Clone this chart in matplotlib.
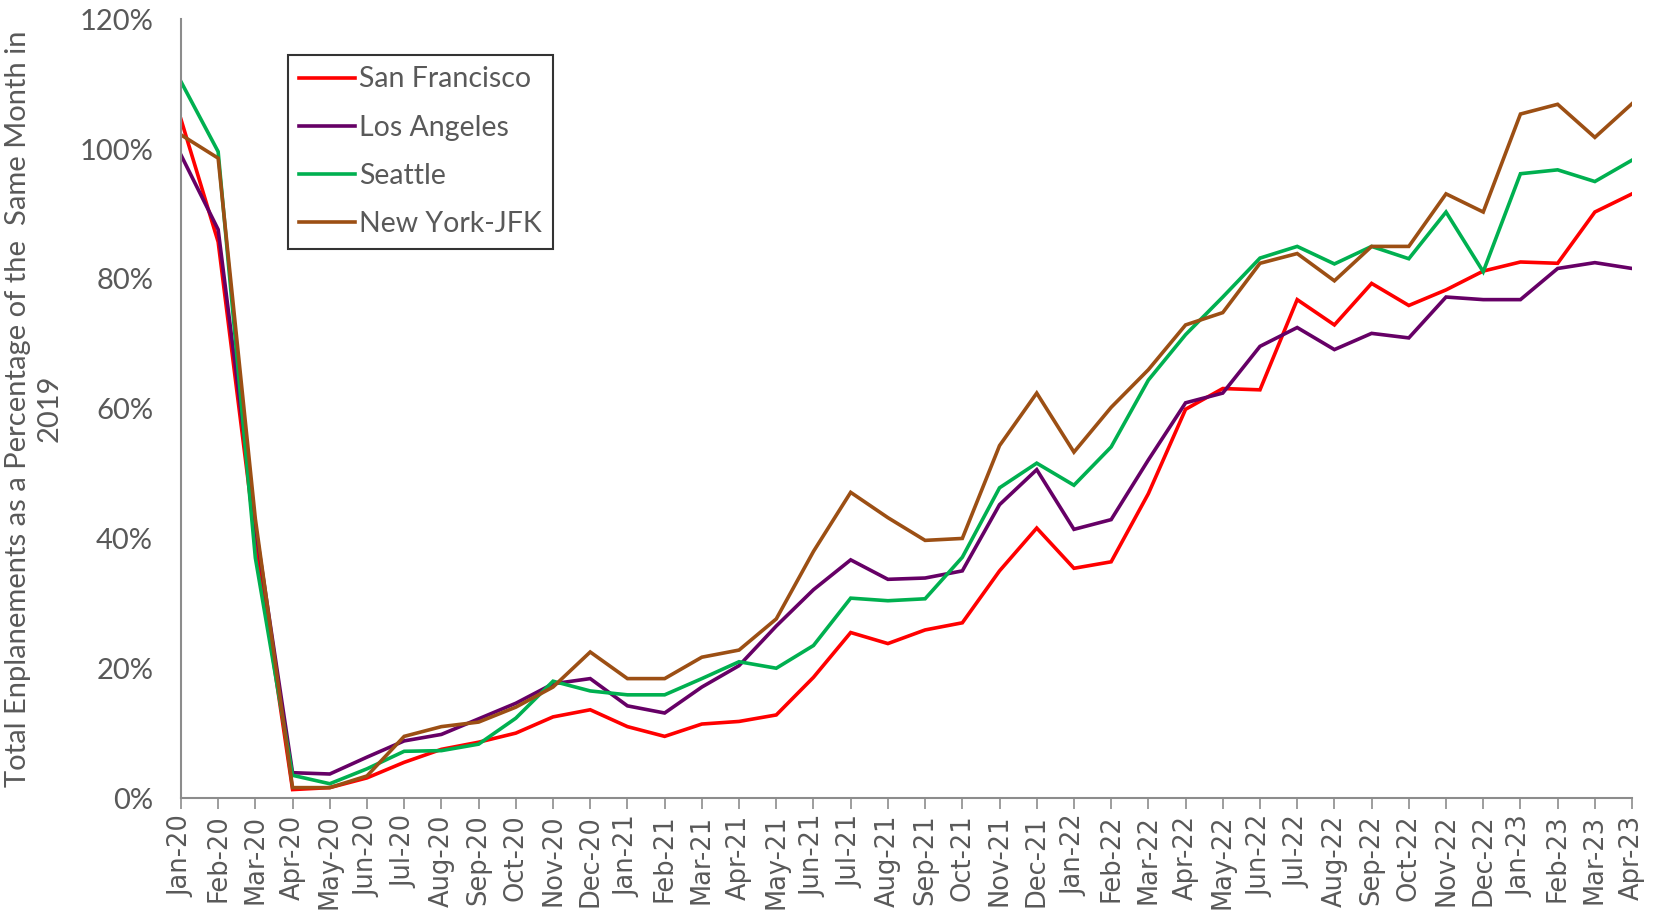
import matplotlib.pyplot as plt
from matplotlib.ticker import FuncFormatter

months = ["Jan-20", "Feb-20", "Mar-20", "Apr-20", "May-20", "Jun-20", "Jul-20", "Aug-20",
          "Sep-20", "Oct-20", "Nov-20", "Dec-20", "Jan-21", "Feb-21", "Mar-21", "Apr-21",
          "May-21", "Jun-21", "Jul-21", "Aug-21", "Sep-21", "Oct-21", "Nov-21", "Dec-21",
          "Jan-22", "Feb-22", "Mar-22", "Apr-22", "May-22", "Jun-22", "Jul-22", "Aug-22",
          "Sep-22", "Oct-22", "Nov-22", "Dec-22", "Jan-23", "Feb-23", "Mar-23", "Apr-23"]

# percent of same month in 2019
san_francisco = [104.6, 85.7, 40, 1.3, 1.6, 3.1, 5.5, 7.5, 8.6, 10.0,
                 12.5, 13.6, 11.0, 9.5, 11.4, 11.8, 12.8, 18.6, 25.5, 23.8,
                 25.9, 27.0, 35.0, 41.6, 35.4, 36.4, 46.9, 59.9, 63.1, 62.9,
                 76.8, 72.9, 79.3, 75.9, 78.3, 81.2, 82.6, 82.4, 90.3, 93.1]
los_angeles = [99.1, 87.6, 42, 3.9, 3.7, 6.3, 8.8, 9.8, 12.2, 14.6,
               17.6, 18.4, 14.2, 13.1, 17.1, 20.4, 26.5, 32.1, 36.7, 33.7,
               33.9, 35.0, 45.2, 50.6, 41.4, 42.9, 52.1, 60.9, 62.4, 69.6,
               72.5, 69.1, 71.6, 70.9, 77.2, 76.8, 76.8, 81.6, 82.5, 81.6]
seattle = [110.4, 99.6, 37, 3.5, 2.2, 4.5, 7.2, 7.3, 8.3, 12.3,
           18.0, 16.5, 15.9, 15.9, 18.4, 21.0, 20.0, 23.5, 30.8, 30.4,
           30.7, 37.1, 47.8, 51.6, 48.2, 54.1, 64.4, 71.4, 77.2, 83.2,
           85.0, 82.3, 85.0, 83.1, 90.3, 81.1, 96.2, 96.8, 95.0, 98.3]
new_york_jfk = [102.2, 98.6, 43, 1.6, 1.6, 3.4, 9.5, 11.0, 11.7, 14.0,
                17.1, 22.5, 18.4, 18.4, 21.7, 22.8, 27.6, 38.0, 47.1, 43.2,
                39.7, 40.0, 54.3, 62.4, 53.3, 60.2, 66.0, 72.9, 74.8, 82.4,
                83.9, 79.7, 85.0, 85.0, 93.1, 90.3, 105.4, 106.9, 101.8, 107.0]

series = [("San Francisco", san_francisco, "#FF0000"),
          ("Los Angeles", los_angeles, "#660066"),
          ("Seattle", seattle, "#00B050"),
          ("New York-JFK", new_york_jfk, "#9C4F14")]

gray = "#595959"
axis_gray = "#8C8C8C"

fig = plt.figure(figsize=(16.63, 9.14), dpi=100)
ax = fig.add_axes([0.1088, 0.1269, 0.8726, 0.852])

x = list(range(len(months)))
for name, vals, col in series:
    ax.plot(x, vals, color=col, linewidth=2.6, label=name, solid_joinstyle="miter")

ax.set_xlim(0, len(months) - 1)
ax.set_ylim(0, 120)
ax.set_yticks(range(0, 121, 20))
ax.yaxis.set_major_formatter(FuncFormatter(lambda v, p: "%d%%" % v))
ax.set_xticks(x)
ax.set_xticklabels(months, rotation=90, fontsize=18.5, color=gray, family="DejaVu Sans")

for lab in ax.get_yticklabels():
    lab.set_family("Lato")
    lab.set_fontsize(21)
    lab.set_color(gray)

ax.tick_params(axis="y", length=0, pad=20)
ax.tick_params(axis="x", length=8, width=1.2, color=axis_gray, pad=4)

for s in ["top", "right"]:
    ax.spines[s].set_visible(False)
for s in ["left", "bottom"]:
    ax.spines[s].set_color(axis_gray)
    ax.spines[s].set_linewidth(1.5)

ax.set_ylabel("Total Enplanements as a Percentage of the  Same Month in\n2019",
              fontsize=21, color=gray, family="Lato", labelpad=12, linespacing=1.25)

leg = ax.legend(loc="upper left", bbox_to_anchor=(0.0737, 0.954), borderaxespad=0,
                prop={"family": "Lato", "size": 20.5}, fancybox=False, frameon=True,
                handlelength=1.95, handletextpad=0.15, labelspacing=0.78,
                borderpad=0.4)
leg.get_frame().set_edgecolor("black")
leg.get_frame().set_linewidth(1.5)
for t in leg.get_texts():
    t.set_color(gray)
for h in leg.get_lines():
    h.set_linewidth(2.6)

fig.savefig("out.png", dpi=100)
